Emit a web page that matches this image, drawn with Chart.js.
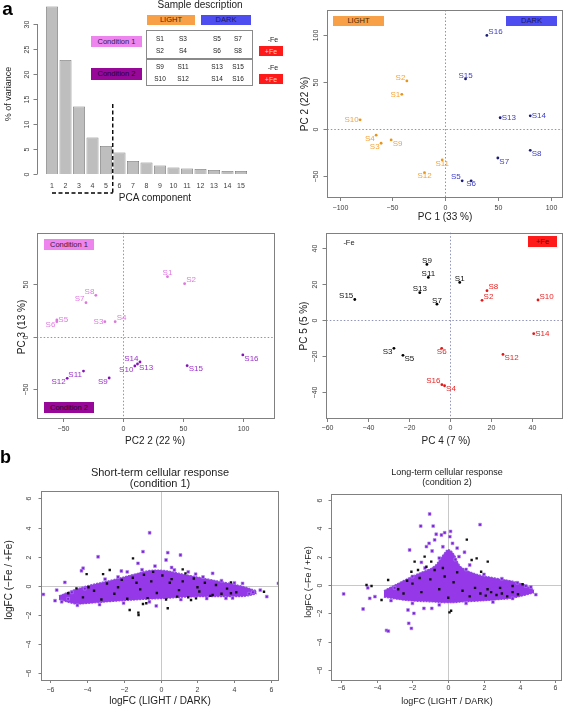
<!DOCTYPE html>
<html>
<head>
<meta charset="utf-8">
<title>PCA overview and logFC scatter</title>
<script src="https://cdn.jsdelivr.net/npm/chart.js@4.4.1/dist/chart.umd.min.js"></script>
<style>
  body { margin: 0; background: #fff; }
  #fig { position: relative; width: 566px; height: 707px; overflow: hidden;
         font-family: "Liberation Sans", Arial, Helvetica, sans-serif; color: #222; }
  #fig canvas { position: absolute; }
  .t { position: absolute; white-space: nowrap; line-height: 1; transform: translate(-50%, -50%); }
  .t.rot { transform: translate(-50%, -50%) rotate(-90deg); }
  .bx { position: absolute; display: flex; align-items: center; justify-content: center;
        white-space: nowrap; line-height: 1; box-sizing: border-box; }
</style>
</head>
<body>
<div id="fig">
  <canvas id="cVar" width="283" height="205" style="left:0;top:0"></canvas>
  <canvas id="cPC12" width="283" height="222" style="left:283px;top:0"></canvas>
  <canvas id="cPC23" width="283" height="226" style="left:0;top:222px"></canvas>
  <canvas id="cPC45" width="283" height="226" style="left:283px;top:222px"></canvas>
  <canvas id="cShort" width="283" height="252" style="left:0;top:455px"></canvas>
  <canvas id="cLong" width="283" height="252" style="left:283px;top:455px"></canvas>
</div>
<script>
///////////////////////////////////////////////////////////////////////////
//////////////////////////  DATA  /////////////////////////////////////////
///////////////////////////////////////////////////////////////////////////

// scree plot
const pcaComponents = ['1','2','3','4','5','6','7','8','9','10','11','12','13','14','15'];
const varianceExplained = [33.5, 22.8, 13.5, 7.3, 5.6, 4.3, 2.6, 2.3, 1.7, 1.3, 1.1, 1.0, 0.8, 0.6, 0.6];
const keptComponents = 5;

// PCA scores per sample
const samples = ['S1','S2','S3','S4','S5','S6','S7','S8','S9','S10','S11','S12','S13','S14','S15','S16'];
const pc1 = [-41.1, -36.3, -60.7, -65.4, 16.1, 24.6, 49.9, 80.6, -51.2, -80.6, -2.8, -19.6, 52.1, 80.6, 19.3, 39.5];
const pc2 = [36.8, 51.1, -15.4, -6.8, -55.4, -55.4, -31.1, -22.9, -11.8, 9.6, -33.2, -46.8, 11.8, 13.9, 53.2, 99.6];
const pc3 = [57.2, 50.6, 14.4, 14.4, 16.0, 14.4, 32.5, 39.5, -39.2, -27.8, -32.6, -39.5, -25.9, -24.0, -27.5, -17.3];
const pc4 = [4.9, 15.8, -27.2, -2.5, -22.8, -3.9, -6.2, 18.2, -11.1, 43.1, -10.4, 26.0, -14.6, 41.0, -46.3, -3.8];
const pc5 = [21.0, 11.0, -15.8, -36.7, -19.7, -15.8, 8.9, 16.4, 31.1, 11.2, 23.8, -19.2, 15.3, -7.6, 11.5, -36.1];

// sample groups
const lightSamples = ['S1','S2','S3','S4','S9','S10','S11','S12'];
const darkSamples = ['S5','S6','S7','S8','S13','S14','S15','S16'];
const cond1Samples = ['S1','S2','S3','S4','S5','S6','S7','S8'];
const cond2Samples = ['S9','S10','S11','S12','S13','S14','S15','S16'];
const minusFeSamples = ['S1','S3','S5','S7','S9','S11','S13','S15'];
const plusFeSamples = ['S2','S4','S6','S8','S10','S12','S14','S16'];

// tick labels
const varTicks = [0, 5, 10, 15, 20, 25, 30];
const pc1Ticks = [-100, -50, 0, 50, 100];
const pc2Ticks = [-50, 0, 50, 100];
const pc3Ticks = [-50, 0, 50];
const pc4Ticks = [-60, -40, -20, 0, 20, 40];
const pc5Ticks = [-40, -20, 0, 20, 40];
const logfcTicks = [-6, -4, -2, 0, 2, 4, 6];

// short-term response (condition 1): dense core outline + single genes
const shortCloudX = [-5.5, -4.6, -3.8, -2.6, -1.4, -0.6, 0.2, 1.4, 2.6, 3.8, 4.6, 5.2];
const shortCloudUp = [-0.7, -0.25, 0.05, 0.4, 0.8, 1.05, 1.05, 0.75, 0.45, 0.15, -0.1, -0.35];
const shortCloudLo = [-0.95, -1.25, -1.2, -1.08, -0.98, -0.92, -0.88, -0.78, -0.75, -0.75, -0.72, -0.55];
const shortPurple = [[-0.59,3.64],[-3.38,1.99],[-0.95,2.34],[0.39,2.27],[1.08,2.11],[-1.22,1.54],[-4.19,1.2],[-4.28,1.03],
  [-5.18,0.23],[-6.34,-0.6],[-5.71,-1.03],[-5.35,-1.1],[6.38,0.16],[5.75,-0.75],[5.0,-0.45],[4.44,0.16],[2.82,0.85],
  [-0.23,-1.39],[3.54,-0.87],[-2.12,1.01],[0.75,1.08],[0.3,1.77],[-4.8,-0.45],[-5.62,-0.3],[-3.0,0.45],[-2.3,0.6],
  [-1.8,0.95],[-0.3,1.35],[0.6,1.25],[1.9,0.8],[3.3,0.35],[4.0,0.2],[-4.5,-1.35],[-3.3,-1.3],[-2.0,-1.2],[-0.6,-1.1],
  [1.1,-0.95],[2.5,-0.88],[3.9,-0.85],[4.8,-0.55],[5.4,-0.3],[-5.0,-0.9],[-4.1,-0.2],[2.3,0.6],[-1.0,1.1],[1.5,0.95]];
const shortBlack = [[-1.49,1.88],[-4.0,0.8],[5.6,-0.41],[3.81,0.23],[-1.67,-1.67],[-1.19,-2.01],[0.39,-1.55],[-0.95,-1.26],
  [-0.77,-1.21],[1.65,-0.98],[1.92,-0.87],[2.82,-0.64],[-3.11,0.8],[-2.75,1.08],[1.2,1.12],[1.35,0.85],[-4.55,-0.18],
  [-5.0,-0.52],[3.81,-0.52],[-1.2,-1.85],[-3.6,-0.35],[-3.2,-0.95],[-2.9,0.15],[-2.5,-0.55],[-2.1,0.4],[-1.8,-0.9],
  [-1.5,0.55],[-1.1,-0.25],[-0.9,0.75],[-0.7,-0.85],[-0.4,0.95],[-0.2,-0.5],[0.1,0.7],[0.3,-0.95],[0.6,0.45],[0.9,-0.75],
  [1.2,0.3],[1.5,-0.8],[1.8,0.5],[2.1,-0.4],[2.4,0.2],[2.7,-0.7],[3.0,0.05],[3.3,-0.55],[3.6,-0.2],[4.1,-0.45],
  [-4.2,-0.8],[-3.9,-0.1],[-2.3,-0.1],[-1.3,0.2],[0.5,0.2],[1.0,-0.3],[-0.5,0.3],[2.0,-0.1]];

// long-term response (condition 2)
const longCloudX = [-3.6, -2.6, -1.7, -0.8, -0.3, 0.0, 0.3, 0.7, 1.5, 2.6, 3.5, 4.3, 4.8];
const longCloudUp = [-0.4, 0.25, 0.8, 1.3, 2.1, 2.5, 2.2, 1.3, 0.8, 0.5, 0.3, 0.0, -0.35];
const longCloudLo = [-0.85, -1.05, -1.15, -1.2, -1.25, -1.25, -1.25, -1.2, -1.15, -1.05, -0.95, -0.72, -0.55];
const longPurple = [[-1.04,5.01],[-1.54,4.16],[-0.84,4.16],[1.78,4.26],[-0.67,3.58],[-0.38,3.53],[-0.2,3.69],[0.13,3.78],
  [0.09,3.41],[-0.76,3.18],[-1.07,2.94],[-1.22,2.71],[0.24,2.94],[-2.16,2.47],[0.91,2.31],[1.2,1.41],[-5.85,-0.63],
  [-4.76,-1.69],[-4.39,-0.94],[-4.1,-0.82],[-2.25,-1.76],[-1.92,-2.0],[-1.36,-1.65],[-0.92,-1.65],[-2.21,-2.7],
  [-2.06,-3.06],[-3.45,-3.2],[-3.35,-3.25],[4.9,-0.68],[4.62,-0.14],[4.34,-0.07],[3.87,0.16],[-3.0,-0.2],[-2.0,0.6],
  [-1.3,1.2],[-0.5,1.9],[0.4,1.8],[1.0,1.1],[2.0,0.75],[3.0,0.45],[-3.2,-1.1],[-2.0,-1.3],[-0.5,-1.4],[1.0,-1.3],
  [2.5,-1.2],[3.6,-0.95],[0.6,2.0],[-0.9,2.4],[-1.5,1.6],[-0.3,2.7],[0.5,2.6],[-4.5,-0.2]];
const longBlack = [[1.04,3.2],[2.21,1.65],[1.59,1.88],[1.31,1.76],[1.84,0.94],[-1.88,1.65],[-1.69,1.06],[-1.32,2.0],
  [-0.95,1.65],[-0.76,1.06],[-1.22,1.29],[-2.06,0.94],[-3.36,0.35],[-4.57,0.0],[-4.29,-0.07],[-3.73,-1.06],[0.16,-1.81],
  [0.07,-1.93],[3.6,-0.07],[4.16,0.05],[1.8,-0.6],[2.1,-0.75],[2.4,-0.5],[2.7,-0.7],[3.0,-0.6],[3.3,-0.8],[3.6,-0.5],
  [3.9,-0.65],[2.2,-0.3],[1.5,-0.2],[0.8,-0.4],[0.3,0.2],[-0.2,0.6],[-0.5,-0.3],[-1.0,0.4],[-1.5,-0.5],[-2.0,0.1],
  [-2.5,-0.6],[-2.8,-0.3],[0.0,-0.9],[1.2,-0.8],[2.9,-0.2],[0.5,0.9],[-0.3,1.2],[-1.6,0.5],[-2.3,0.3]];

///////////////////////////////////////////////////////////////////////////
//////////////////////////  LAYOUT / STYLE  ///////////////////////////////
///////////////////////////////////////////////////////////////////////////

// where each sample label sits relative to its dot (per panel, sample order)
const place12 = ['l','la','lb','lb','la','b','rb','rb','rb','l','b','b','r','r','a','ra'];
const place23 = ['a','ra','l','ra','r','lb','la','la','lb','lb','lb','lb','rb','la','rb','rb'];
const place45 = ['a','ra','lb','rb','rb','b','a','ra','a','ra','a','rb','a','r','la','la'];
const placeMap = {
  l: ['right', -1.5, 0], r: ['left', 1.5, 0], a: ['center', 0, -3.5], b: ['center', 0, 3.5],
  la: ['right', -1.5, -3.5], ra: ['left', 1.5, -3.5], lb: ['right', -1.5, 3.5], rb: ['left', 1.5, 3.5]
};
const FONT = '"Liberation Sans", Arial, sans-serif';

const fmt = v => (v < 0 ? '\u2212' + Math.abs(v) : String(v));

// R-like axes: box, outside ticks, rotated y labels, zero lines, dot labels
const rAxes = {
  id: 'rAxes',
  beforeDatasetsDraw(chart, args, o) {
    if (!o.zero) return;
    const { ctx, chartArea: a, scales: { x, y } } = chart;
    const px = Math.round(x.getPixelForValue(0)) + 0.5;
    const py = Math.round(y.getPixelForValue(0)) + 0.5;
    ctx.save();
    ctx.strokeStyle = o.zero.color;
    ctx.lineWidth = 1;
    ctx.setLineDash(o.zero.dash || []);
    ctx.beginPath();
    ctx.moveTo(px, a.top); ctx.lineTo(px, a.bottom);
    ctx.moveTo(a.left, py); ctx.lineTo(a.right, py);
    ctx.stroke();
    ctx.restore();
  },
  afterDatasetsDraw(chart, args, o) {
    const { ctx, chartArea: a, scales: { x, y } } = chart;
    const tl = o.tickLen || 4;
    ctx.save();
    ctx.strokeStyle = '#808080';
    ctx.fillStyle = '#3c3c3c';
    ctx.lineWidth = 1;
    ctx.font = (o.tickSize || 7) + 'px ' + FONT;
    ctx.textAlign = 'center';
    ctx.textBaseline = 'middle';
    if (o.box) {
      ctx.strokeRect(Math.round(a.left) + 0.5, Math.round(a.top) + 0.5,
        Math.round(a.right - a.left), Math.round(a.bottom - a.top));
    }
    // y axis
    const ax = Math.round(a.left - (o.axisGap || 0)) + 0.5;
    if (o.yTicks) {
      if (o.axisGap) {
        ctx.beginPath();
        ctx.moveTo(ax, y.getPixelForValue(o.yTicks[0]));
        ctx.lineTo(ax, y.getPixelForValue(o.yTicks[o.yTicks.length - 1]));
        ctx.stroke();
      }
      o.yTicks.forEach(v => {
        const py = Math.round(y.getPixelForValue(v)) + 0.5;
        ctx.beginPath(); ctx.moveTo(ax, py); ctx.lineTo(ax - tl, py); ctx.stroke();
        ctx.save();
        ctx.translate(ax - o.yLabOff, py);
        ctx.rotate(-Math.PI / 2);
        ctx.fillText(fmt(v), 0, 0);
        ctx.restore();
      });
    }
    // x axis
    if (o.xTicks) {
      o.xTicks.forEach(v => {
        const px = Math.round(x.getPixelForValue(v)) + 0.5;
        ctx.beginPath(); ctx.moveTo(px, a.bottom); ctx.lineTo(px, a.bottom + tl); ctx.stroke();
        ctx.fillText(fmt(v), px, a.bottom + o.xLabOff);
      });
    }
    if (o.catLabels) {
      chart.data.labels.forEach((l, i) => ctx.fillText(l, x.getPixelForValue(i), a.bottom + o.xLabOff));
    }
    // sample labels next to the dots
    ctx.font = (o.labelSize || 8) + 'px ' + FONT;
    chart.data.datasets.forEach((ds, di) => {
      if (!ds.pointLabels) return;
      const meta = chart.getDatasetMeta(di);
      ctx.fillStyle = ds.labelColor;
      meta.data.forEach((pt, i) => {
        const p = placeMap[ds.labelPlace[i]];
        ctx.textAlign = p[0];
        ctx.fillText(ds.pointLabels[i], pt.x + p[1], pt.y + p[2]);
      });
    });
    ctx.restore();
  }
};

// dashed bracket marking the retained PCA components
const keptBracket = {
  id: 'keptBracket',
  afterDatasetsDraw(chart, args, o) {
    if (!o.after) return;
    const { ctx, chartArea: a, scales: { x, y } } = chart;
    const xm = (x.getPixelForValue(o.after - 1) + x.getPixelForValue(o.after)) / 2;
    const yb = a.bottom + o.below;
    ctx.save();
    ctx.strokeStyle = '#000';
    ctx.lineWidth = 1.4;
    ctx.setLineDash([4, 2.5]);
    ctx.beginPath();
    ctx.moveTo(xm, y.getPixelForValue(o.top));
    ctx.lineTo(xm, yb);
    ctx.moveTo(x.getPixelForValue(0), yb);
    ctx.lineTo(xm, yb);
    ctx.stroke();
    ctx.restore();
  }
};

Chart.register(rAxes, keptBracket);

// chart area in page pixels -> layout padding for a canvas placed at (cx, cy)
function pad(canvas, left, top, right, bottom) {
  const cx = parseFloat(canvas.style.left) || 0, cy = parseFloat(canvas.style.top) || 0;
  return { left: left - cx, top: top - cy, right: cx + canvas.width - right, bottom: cy + canvas.height - bottom };
}

function baseOptions(canvas, area, xr, yr, axes) {
  return {
    responsive: false,
    animation: false,
    devicePixelRatio: 1,
    layout: { padding: pad(canvas, ...area) },
    scales: {
      x: { type: 'linear', display: false, min: xr[0], max: xr[1] },
      y: { type: 'linear', display: false, min: yr[0], max: yr[1] }
    },
    plugins: { legend: { display: false }, tooltip: { enabled: false }, rAxes: axes }
  };
}

function groupSet(xs, ys, members, place, dot, lab) {
  const idx = samples.map((s, i) => i).filter(i => members.includes(samples[i]));
  return {
    data: idx.map(i => ({ x: xs[i], y: ys[i] })),
    pointLabels: idx.map(i => samples[i]),
    labelPlace: idx.map(i => place[i]),
    labelColor: lab,
    backgroundColor: dot,
    borderColor: dot,
    pointRadius: 1.4,
    pointBorderWidth: 0
  };
}

function cloudSets(cx, up, lo, purple, black) {
  return [
    { type: 'line', data: cx.map((v, i) => ({ x: v, y: up[i] })), fill: '+1', backgroundColor: '#9538e8',
      borderColor: '#8a4fe0', borderWidth: 1.2, borderDash: [2, 1], pointRadius: 0, tension: 0.35, order: 3 },
    { type: 'line', data: cx.map((v, i) => ({ x: v, y: lo[i] })), fill: false,
      borderColor: '#8a4fe0', borderWidth: 1.2, borderDash: [2, 1], pointRadius: 0, tension: 0.35, order: 3 },
    { data: purple.map(p => ({ x: p[0], y: p[1] })), pointStyle: 'rect', pointRadius: 2,
      backgroundColor: '#7b20d4', borderColor: '#b48cf0', pointBorderWidth: 0.6, order: 2 },
    { data: black.map(p => ({ x: p[0], y: p[1] })), pointStyle: 'rect', pointRadius: 1.7,
      backgroundColor: '#111', borderColor: '#111', pointBorderWidth: 0, order: 1 }
  ];
}

///////////////////////////////////////////////////////////////////////////
//////////////////////////  CHARTS  ///////////////////////////////////////
///////////////////////////////////////////////////////////////////////////

const cVar = document.getElementById('cVar');
new Chart(cVar, {
  type: 'bar',
  data: {
    labels: pcaComponents,
    datasets: [{ data: varianceExplained, backgroundColor: '#bebebe', borderColor: '#7a7a7a',
      borderWidth: 0.8, barPercentage: 0.89, categoryPercentage: 1 }]
  },
  options: {
    responsive: false, animation: false, devicePixelRatio: 1,
    layout: { padding: pad(cVar, 45.25, 4, 247.75, 174) },
    scales: { x: { display: false }, y: { display: false, min: 0, max: 34 } },
    plugins: {
      legend: { display: false }, tooltip: { enabled: false },
      rAxes: { yTicks: varTicks, axisGap: 8, tickLen: 4, yLabOff: 10, catLabels: true, xLabOff: 12 },
      keptBracket: { after: keptComponents, top: 14, below: 19 }
    }
  }
});

const zeroDots = { color: '#8d92b8', dash: [1.5, 2] };

const cPC12 = document.getElementById('cPC12');
new Chart(cPC12, {
  type: 'scatter',
  data: { datasets: [
    groupSet(pc1, pc2, lightSamples, place12, '#e8951c', '#f2a43c'),
    groupSet(pc1, pc2, darkSamples, place12, '#1c1c78', '#3c3cc8')
  ] },
  options: baseOptions(cPC12, [327.3, 10, 562, 197], [-111.7, 110.7], [-72.7, 126.7],
    { box: true, zero: zeroDots, xTicks: pc1Ticks, yTicks: pc2Ticks, xLabOff: 11, yLabOff: 11 })
});

const cPC23 = document.getElementById('cPC23');
new Chart(cPC23, {
  type: 'scatter',
  data: { datasets: [
    groupSet(pc2, pc3, cond1Samples, place23, '#dc78dc', '#e07ae0'),
    groupSet(pc2, pc3, cond2Samples, place23, '#8512b8', '#9a30c8')
  ] },
  options: baseOptions(cPC23, [36.7, 232.7, 273.3, 418], [-72.2, 125], [-77.3, 99.1],
    { box: true, zero: zeroDots, xTicks: pc2Ticks, yTicks: pc3Ticks, xLabOff: 11, yLabOff: 11.5 })
});

const cPC45 = document.getElementById('cPC45');
new Chart(cPC45, {
  type: 'scatter',
  data: { datasets: [
    groupSet(pc4, pc5, minusFeSamples, place45, '#000', '#111'),
    groupSet(pc4, pc5, plusFeSamples, place45, '#e01818', '#e82424')
  ] },
  options: baseOptions(cPC45, [326.3, 232.7, 562, 418], [-60.2, 54.8], [-54.7, 48.8],
    { box: true, zero: zeroDots, xTicks: pc4Ticks, yTicks: pc5Ticks, xLabOff: 10, yLabOff: 11 })
});

const zeroGrey = { color: '#c8c8c8' };

const cShort = document.getElementById('cShort');
new Chart(cShort, {
  type: 'scatter',
  data: { datasets: cloudSets(shortCloudX, shortCloudUp, shortCloudLo, shortPurple, shortBlack) },
  options: baseOptions(cShort, [41, 491, 279.3, 680], [-6.47, 6.38], [-6.48, 6.51],
    { box: true, zero: zeroGrey, xTicks: logfcTicks, yTicks: logfcTicks, tickLen: 3, xLabOff: 10.5, yLabOff: 12 })
});

const cLong = document.getElementById('cLong');
new Chart(cLong, {
  type: 'scatter',
  data: { datasets: cloudSets(longCloudX, longCloudUp, longCloudLo, longPurple, longBlack) },
  options: baseOptions(cLong, [331.3, 494, 562.3, 680], [-6.54, 6.33], [-6.7, 6.42],
    { box: true, zero: zeroGrey, xTicks: logfcTicks, yTicks: logfcTicks, tickLen: 3, xLabOff: 8.5, yLabOff: 11.5 })
});

///////////////////////////////////////////////////////////////////////////
//////////////////////////  TEXT OVERLAYS  ////////////////////////////////
///////////////////////////////////////////////////////////////////////////

const fig = document.getElementById('fig');

function text(s, cx, cy, size, extra) {
  const d = document.createElement('div');
  d.className = 't' + (extra && extra.rot ? ' rot' : '');
  d.textContent = s;
  d.style.left = cx + 'px';
  d.style.top = cy + 'px';
  d.style.fontSize = size + 'px';
  if (extra && extra.bold) d.style.fontWeight = 'bold';
  if (extra && extra.color) d.style.color = extra.color;
  fig.appendChild(d);
}

function box(s, x0, y0, x1, y1, bg, color, size) {
  const d = document.createElement('div');
  d.className = 'bx';
  d.textContent = s;
  Object.assign(d.style, { left: x0 + 'px', top: y0 + 'px', width: (x1 - x0) + 'px', height: (y1 - y0) + 'px',
    background: bg, color: color, fontSize: size + 'px' });
  fig.appendChild(d);
}

function frame(x0, y0, x1, y1, color) {
  const d = document.createElement('div');
  Object.assign(d.style, { position: 'absolute', left: x0 + 'px', top: y0 + 'px', width: (x1 - x0) + 'px',
    height: (y1 - y0) + 'px', border: '1px solid ' + color, boxSizing: 'border-box' });
  fig.appendChild(d);
}

const LIGHT_BG = '#f8a048', DARK_BG = '#4d4df0', C1_BG = '#ee84ee', C2_BG = '#980898', FE_BG = '#ff1a1a';

// panel letters
text('a', 7.5, 8, 19, { bold: true, color: '#000' });
text('b', 5.5, 457, 18, { bold: true, color: '#000' });

// scree plot + sample description
text('% of variance', 7.5, 94, 9, { rot: true });
text('PCA component', 155, 198, 10);
text('Sample description', 200, 4.5, 10);
box('LIGHT', 147, 15, 195, 25, LIGHT_BG, '#4a2800', 7.5);
box('DARK', 201, 15, 251, 25, DARK_BG, '#1b1b60', 7.5);
frame(146, 30, 253, 86, '#8a8a8a');
frame(146, 58, 253, 59, '#8a8a8a');
const tableRows = [['S1','S3','S5','S7'], ['S2','S4','S6','S8'], ['S9','S11','S13','S15'], ['S10','S12','S14','S16']];
const colX = [160, 183, 217, 238], rowY = [38.7, 50.7, 66.7, 79];
tableRows.forEach((row, r) => row.forEach((s, c) => text(s, colX[c], rowY[r], 6.5)));
text('-Fe', 273, 38.7, 7);
text('-Fe', 273, 66.7, 7);
box('+Fe', 259, 46, 283, 56, FE_BG, '#ffd2d2', 7);
box('+Fe', 259, 74, 283, 84, FE_BG, '#ffd2d2', 7);
box('Condition 1', 91, 36, 142, 47, C1_BG, '#3a1a3a', 7.5);
box('Condition 2', 91, 68, 142, 80, C2_BG, '#2a002a', 7.5);

// PC1 vs PC2
box('LIGHT', 333, 16, 384, 26, LIGHT_BG, '#4a2800', 7.5);
box('DARK', 506, 16, 557, 26, DARK_BG, '#1b1b60', 7.5);
text('PC 1 (33 %)', 445, 217, 10);
text('PC 2 (22 %)', 305, 104, 10, { rot: true });

// PC2 vs PC3
box('Condition 1', 44, 239, 94, 250, C1_BG, '#3a1a3a', 7.5);
box('Condition 2', 44, 402, 94, 413, C2_BG, '#2a002a', 7.5);
text('PC 3 (13 %)', 22, 327, 10, { rot: true });
text('PC2 2 (22 %)', 155, 441, 10);

// PC4 vs PC5
text('-Fe', 349, 242.5, 7.5);
box('+Fe', 528, 236, 557, 247, FE_BG, '#7a0000', 7.5);
text('PC 5 (5 %)', 304, 326, 10, { rot: true });
text('PC 4 (7 %)', 446, 441, 10);

// logFC panels
text('Short-term cellular response', 160, 471.5, 11);
text('(condition 1)', 160, 482.5, 11);
text('logFC (LIGHT / DARK)', 160, 701, 10);
text('logFC (\u2212Fe / +Fe)', 9, 580, 10, { rot: true });

text('Long-term cellular response', 447, 471.5, 9);
text('(condition 2)', 447, 481.5, 9);
text('logFC (LIGHT / DARK)', 447, 701, 9);
text('logFC (\u2212Fe / +Fe)', 308, 582, 9, { rot: true });
</script>
</body>
</html>
